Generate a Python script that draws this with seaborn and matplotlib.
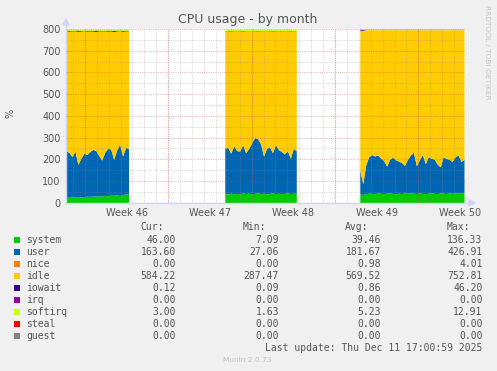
import numpy as np
import pandas as pd
import matplotlib
matplotlib.use("Agg")
import matplotlib.pyplot as plt
from matplotlib.patches import Rectangle, Polygon
import seaborn as sns

# ---------------- data ----------------
# x in days from the left edge of the graph; one sample every 0.25 day
seg_starts = [0.0, 13.333, 24.667]
step = 0.25

system_1 = [30, 28, 30, 27, 29, 26, 28, 30, 29, 31, 30, 32, 31, 33, 32, 35, 34, 36, 33, 38, 40, 42]
user_1 = [210, 204, 182, 211, 147, 179, 200, 192, 207, 215, 210, 186, 165, 199, 218, 213, 166, 206, 237, 177, 215, 208]
iowait_1 = [3, 4, 2, 3, 5, 3, 2, 4, 3, 3, 6, 3, 2, 3, 4, 3, 5, 3, 2, 4, 3, 3]
softirq_1 = [5, 5, 6, 5, 5, 6, 5, 5, 5, 6, 5, 5, 6, 5, 5, 5, 6, 5, 5, 6, 5, 5]

system_2 = [42, 40, 44, 41, 43, 40, 45, 42, 44, 41, 43, 46, 42, 44, 40, 43, 45, 42, 44, 41, 43, 46, 42, 44, 43]
user_2 = [210, 215, 184, 221, 197, 198, 223, 188, 206, 234, 257, 249, 230, 171, 210, 215, 185, 226, 201, 195, 182, 194, 163, 206, 197]
iowait_2 = [1, 1, 2, 1, 1, 1, 2, 1, 1, 1, 1, 2, 1, 1, 1, 1, 2, 1, 1, 1, 1, 1, 2, 1, 1]
softirq_2 = [6, 6, 7, 6, 6, 6, 7, 6, 6, 6, 7, 6, 6, 6, 6, 7, 6, 6, 6, 7, 6, 6, 6, 6, 6]

system_3 = [40, 38, 42, 44, 43, 41, 45, 43, 42, 44, 46, 43, 41, 44, 42, 45, 43, 47, 44, 42, 45, 43, 41, 44, 46, 43, 42, 45, 44, 42, 46, 43, 45, 44, 46, 46]
user_3 = [110, 50, 133, 168, 179, 174, 175, 162, 153, 124, 154, 167, 157, 148, 143, 127, 157, 173, 188, 128, 153, 179, 139, 168, 159, 157, 136, 120, 168, 162, 154, 147, 167, 176, 144, 154]
iowait_3 = [4, 3, 0.5, 0.2, 0.2, 0.2, 0.2, 0.2, 0.2, 0.2, 0.2, 0.2, 0.2, 0.2, 0.2, 0.2, 0.2, 0.2, 0.2, 0.2, 0.2, 0.2, 0.2, 0.2, 0.2, 0.2, 0.2, 0.2, 0.2, 0.2, 0.2, 0.2, 0.2, 0.2, 0.2, 0.2]
softirq_3 = [3, 3, 3, 3, 3, 3, 3, 3, 3, 3, 3, 3, 3, 3, 3, 3, 3, 3, 3, 3, 3, 3, 3, 3, 3, 3, 3, 3, 3, 3, 3, 3, 3, 3, 3, 3]

CAPACITY = 800  # 8 CPUs, the stack always reaches 800 %

series_names = ["system", "user", "nice", "idle", "iowait", "irq", "softirq", "steal", "guest"]
series_colors = ["#00CC00", "#0066B3", "#FF8000", "#FFCC00", "#330099", "#990099", "#CCFF00", "#FF0000", "#808080"]
cur_vals = ["46.00", "163.60", "0.00", "584.22", "0.12", "0.00", "3.00", "0.00", "0.00"]
min_vals = ["7.09", "27.06", "0.00", "287.47", "0.09", "0.00", "1.63", "0.00", "0.00"]
avg_vals = ["39.46", "181.67", "0.98", "569.52", "0.86", "0.00", "5.23", "0.00", "0.00"]
max_vals = ["136.33", "426.91", "4.01", "752.81", "46.20", "0.00", "12.91", "0.00", "0.00"]

week_labels = ["Week 46", "Week 47", "Week 48", "Week 49", "Week 50"]
week_label_pos = [5.083, 12.083, 19.083, 26.083, 33.083]
week_start_pos = [1.583, 8.583, 15.583, 22.583, 29.583]
y_ticks = [0, 100, 200, 300, 400, 500, 600, 700, 800]

title = "CPU usage - by month"
last_update = "Last update: Thu Dec 11 17:00:59 2025"

# ---------------- build table ----------------
frames = []
for k, (s, u, io, sq) in enumerate([(system_1, user_1, iowait_1, softirq_1),
                                    (system_2, user_2, iowait_2, softirq_2),
                                    (system_3, user_3, iowait_3, softirq_3)]):
    n = len(s)
    df = pd.DataFrame({
        "t": seg_starts[k] + step * np.arange(n),
        "segment": k,
        "system": s, "user": u, "nice": 0.0, "iowait": io,
        "irq": 0.0, "softirq": sq, "steal": 0.0, "guest": 0.0,
    })
    df["idle"] = CAPACITY - df[["system", "user", "nice", "iowait", "irq", "softirq", "steal", "guest"]].sum(axis=1)
    frames.append(df)
data = pd.concat(frames, ignore_index=True)

# ---------------- figure ----------------
sns.set_theme(style="white")
plt.rcParams["font.family"] = ["DejaVu Sans"]
W, H = 497, 371
fig = plt.figure(figsize=(W / 100, H / 100), dpi=100, facecolor="#F0F0F0")

L, R, T, B = 66, 466, 29.1, 202.7
ax = fig.add_axes([L / W, 1 - B / H, (R - L) / W, (B - T) / H])
ax.set_facecolor("white")

palette = sns.color_palette(series_colors)
for seg, g in data.groupby("segment"):
    ax.stackplot(g["t"], *[g[nm] for nm in series_names], colors=palette,
                 linewidth=0, zorder=1)

ax.set_xlim(0, (R - L) / 12.0)
ax.set_ylim(0, 800)

# grid
ax.set_axisbelow(False)
ax.set_xticks(week_label_pos)
ax.set_xticklabels(week_labels)
ax.set_xticks([week_start_pos[0] - 1 + i for i in range(0, 34)], minor=True)
ax.set_yticks(y_ticks)
ax.set_yticklabels([str(v) for v in y_ticks])
ax.set_yticks(list(range(50, 800, 100)), minor=True)
dots = (0, (1, 1))
ax.grid(False)
ax.xaxis.grid(True, which="minor", color="#909090", alpha=0.32, linestyle=dots, linewidth=0.8)
ax.yaxis.grid(True, which="minor", color="#909090", alpha=0.32, linestyle=dots, linewidth=0.8)
ax.yaxis.grid(True, which="major", color="#d04040", alpha=0.35, linestyle=dots, linewidth=0.8)
for xs in week_start_pos:
    ax.axvline(xs, color="#d04040", alpha=0.35, linestyle=dots, linewidth=0.8, zorder=2.6)

ax.tick_params(axis="x", which="major", length=0, pad=4, labelsize=7, labelcolor="#555555")
ax.tick_params(axis="x", which="minor", length=2, color="#cccccc", direction="out")
ax.tick_params(axis="y", which="major", length=2, pad=2, labelsize=7, labelcolor="#555555",
               color="#e0a0a0", direction="out")
ax.tick_params(axis="y", which="minor", length=0)
for sp in ["top", "right"]:
    ax.spines[sp].set_visible(False)
for sp in ["left", "bottom"]:
    ax.spines[sp].set_color("#CFD6F8")
    ax.spines[sp].set_linewidth(1.0)

# ---------------- overlay in pixel coords ----------------
ov = fig.add_axes([0, 0, 1, 1], facecolor="none")
ov.set_xlim(0, W)
ov.set_ylim(H, 0)
ov.axis("off")

# axis arrows
ov.plot([L, L], [T, 24], color="#CFD6F8", lw=1.0)
ov.plot([R, 470], [B, B], color="#CFD6F8", lw=1.0)
ov.add_patch(Polygon([[L - 3, 25], [L + 3, 25], [L, 19]], closed=True, color="#CFD6F8"))
ov.add_patch(Polygon([[469, B - 3], [469, B + 3], [475, B]], closed=True, color="#CFD6F8"))

ov.text(247.5, 19, title, ha="center", va="center", fontsize=9, color="#555555")
ov.text(10, 113, "%", ha="center", va="center", rotation=90, fontsize=7, color="#555555")
ov.text(487.5, 52, "RRDTOOL / TOBI OETIKER", ha="center", va="center", rotation=270,
        fontsize=5.3, color="#c4c4c4")

mono = "DejaVu Sans Mono"
fs = 7
tc = "#555555"
hdr_y = 227.5
for txt, xr in [("Cur:", 163.5), ("Min:", 266), ("Avg:", 368.5), ("Max:", 470.5)]:
    ov.text(xr, hdr_y, txt, ha="right", va="center", family=mono, fontsize=fs, color=tc)

for i, nm in enumerate(series_names):
    y = 240 + 12 * i
    ov.add_patch(Rectangle((14, y - 3.2), 6, 6, color=series_colors[i], lw=0))
    ov.text(26, y, nm, ha="left", va="center", family=mono, fontsize=fs, color=tc)
    for vals, xr in [(cur_vals, 176), (min_vals, 279), (avg_vals, 381), (max_vals, 482.5)]:
        ov.text(xr, y, vals[i], ha="right", va="center", family=mono, fontsize=fs, color=tc)

ov.text(482.5, 348, last_update, ha="right", va="center", family=mono, fontsize=fs, color=tc)
ov.text(247, 360, "Munin 2.0.73", ha="center", va="center", fontsize=5.3, color="#c0c0c0")

fig.savefig("out.png", dpi=100, facecolor=fig.get_facecolor())
